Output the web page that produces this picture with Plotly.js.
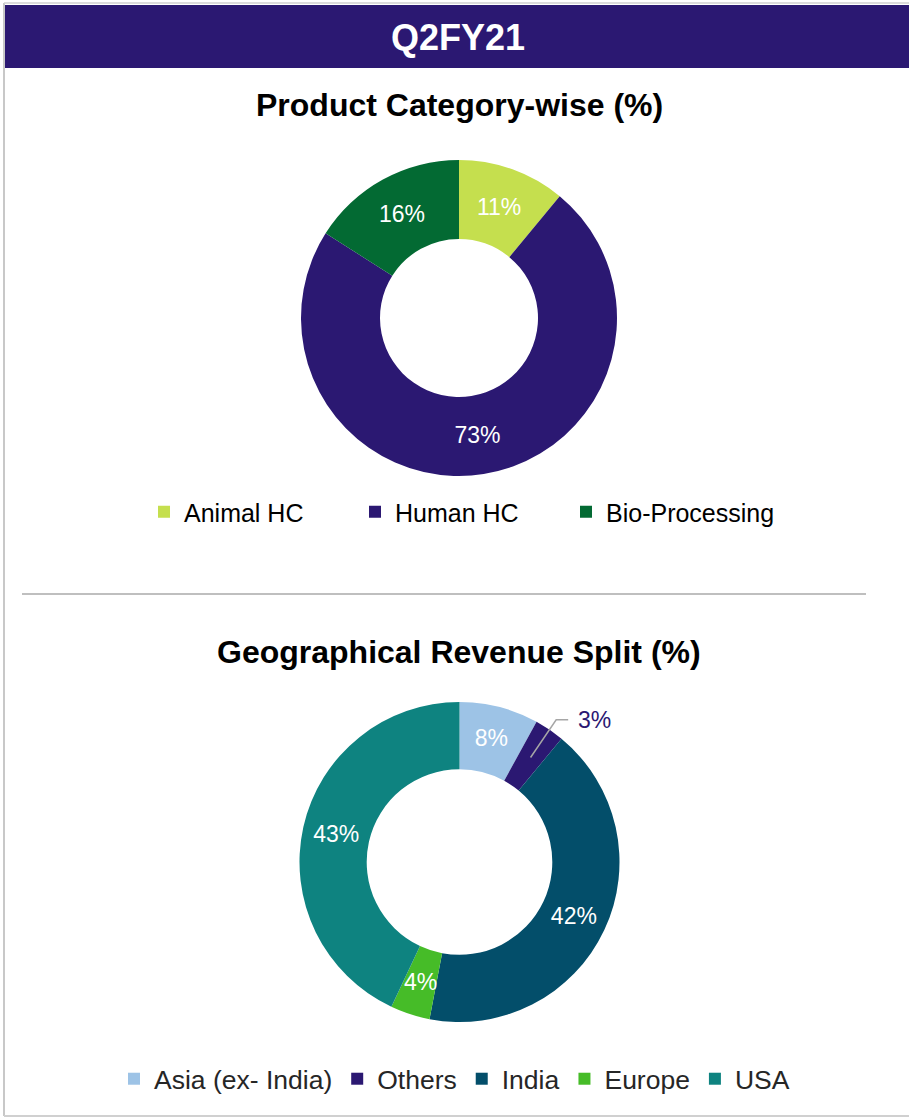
<!DOCTYPE html>
<html>
<head>
<meta charset="utf-8">
<script src="https://cdn.plot.ly/plotly-3.0.1.min.js"></script>
<style>
  html, body { margin: 0; padding: 0; background: #ffffff; }
  #chart { width: 909px; height: 1118px; }
</style>
</head>
<body>
<div id="chart"></div>
<script>
// ---- Data ----
const headerTitle = "Q2FY21";

const productTitle = "Product Category-wise (%)";
const productLabels = ["Animal HC", "Human HC", "Bio-Processing"];
const productValues = [11, 73, 16];
const productColors = ["#c5df4e", "#2b1872", "#036a33"];

const geoTitle = "Geographical Revenue Split (%)";
const geoLabels = ["Asia (ex- India)", "Others", "India", "Europe", "USA"];
const geoValues = [8, 3, 42, 4, 43];
const geoColors = ["#9dc3e6", "#2b1872", "#034e6a", "#46bc28", "#0e8380"];
// how each geo label is drawn: by the pie itself, as a free label on the ring, or with a leader line
const geoLabelModes = ["inside", "leader", "inside", "ring", "inside"];

// ---- Layout helpers ----
const W = 909, H = 1118;
const px = x => x / W;
const py = y => 1 - y / H;
const FONT = "Liberation Sans, Arial, Helvetica, sans-serif";

const pie1 = {cx: 459, cy: 318, r: 158, hole: 0.5};
const pie2 = {cx: 459.5, cy: 862, r: 160, hole: 0.58};
const dom = p => ({x: [px(p.cx - p.r), px(p.cx + p.r)], y: [py(p.cy + p.r), py(p.cy - p.r)]});

// point on a pie (clockwise from 12 o'clock) at the middle angle of slice i, radius rho
function slicePoint(p, values, i, rho) {
  const total = values.reduce((a, b) => a + b, 0);
  let before = 0;
  for (let k = 0; k < i; k++) before += values[k];
  const theta = 2 * Math.PI * (before + values[i] / 2) / total;
  return {x: p.cx + rho * Math.sin(theta), y: p.cy - rho * Math.cos(theta)};
}

const traces = [
  {
    type: "pie",
    labels: productLabels,
    values: productValues,
    marker: {colors: productColors, line: {width: 0}},
    hole: pie1.hole,
    sort: false,
    direction: "clockwise",
    rotation: 0,
    domain: dom(pie1),
    texttemplate: "%{value}%",
    textposition: "inside",
    insidetextorientation: "horizontal",
    textfont: {family: FONT, size: 23, color: "#ffffff"},
    legend: "legend",
    hoverinfo: "label+percent"
  },
  {
    type: "pie",
    labels: geoLabels,
    values: geoValues,
    marker: {colors: geoColors, line: {width: 0}},
    hole: pie2.hole,
    sort: false,
    direction: "clockwise",
    rotation: 0,
    domain: dom(pie2),
    texttemplate: "%{value}%",
    textposition: geoLabelModes.map(m => m === "inside" ? "inside" : "none"),
    insidetextorientation: "horizontal",
    insidetextfont: {family: FONT, size: 23, color: "#ffffff"},
    legend: "legend2",
    hoverinfo: "label+percent"
  }
];

const shapes = [
  {type: "rect", xref: "paper", yref: "paper", x0: px(5), x1: 1, y0: py(68), y1: py(5),
   fillcolor: "#2b1872", line: {width: 0}, layer: "below"},
  {type: "line", xref: "paper", yref: "paper", x0: px(4), x1: px(4), y0: py(1116), y1: py(3),
   line: {color: "#c8c8c8", width: 2}},
  {type: "line", xref: "paper", yref: "paper", x0: px(4), x1: 1, y0: py(1116), y1: py(1116),
   line: {color: "#d0d0d0", width: 2}},
  {type: "line", xref: "paper", yref: "paper", x0: px(4), x1: 1, y0: py(3), y1: py(3),
   line: {color: "#d0d0d0", width: 1.5}},
  {type: "line", xref: "paper", yref: "paper", x0: px(22), x1: px(866), y0: py(594), y1: py(594),
   line: {color: "#bfbfbf", width: 2}}
];

const annotations = [
  {text: "<b>" + headerTitle + "</b>", xref: "paper", yref: "paper", x: px(458), y: py(37),
   showarrow: false, font: {family: FONT, size: 36, color: "#ffffff"}, xanchor: "center", yanchor: "middle"},
  {text: "<b>" + productTitle + "</b>", xref: "paper", yref: "paper", x: px(459), y: py(105),
   showarrow: false, font: {family: FONT, size: 32, color: "#000000"}, xanchor: "center", yanchor: "middle"},
  {text: "<b>" + geoTitle + "</b>", xref: "paper", yref: "paper", x: px(459), y: py(652),
   showarrow: false, font: {family: FONT, size: 32, color: "#000000"}, xanchor: "center", yanchor: "middle"}
];

// free-standing labels for slices too small for the pie's own inside text
const ringMid = pie2.r * (1 + pie2.hole) / 2;
geoLabelModes.forEach((mode, i) => {
  const txt = geoValues[i] + "%";
  if (mode === "ring") {
    const p = slicePoint(pie2, geoValues, i, ringMid);
    annotations.push({text: txt, xref: "paper", yref: "paper", x: px(p.x), y: py(p.y),
      showarrow: false, font: {family: FONT, size: 23, color: "#ffffff"},
      xanchor: "center", yanchor: "middle"});
  } else if (mode === "leader") {
    const a = slicePoint(pie2, geoValues, i, ringMid);
    const b = slicePoint(pie2, geoValues, i, pie2.r + 12);
    const c = {x: b.x + 12, y: b.y};
    shapes.push({type: "path", xref: "paper", yref: "paper",
      path: `M${px(a.x)},${py(a.y)} L${px(b.x)},${py(b.y)} L${px(c.x)},${py(c.y)}`,
      line: {color: "#a6a6a6", width: 1.5}});
    annotations.push({text: txt, xref: "paper", yref: "paper", x: px(c.x + 8), y: py(c.y),
      showarrow: false, font: {family: FONT, size: 23, color: "#2b1872"},
      xanchor: "left", yanchor: "middle"});
  }
});

const layout = {
  width: W,
  height: H,
  margin: {l: 0, r: 0, t: 0, b: 0},
  paper_bgcolor: "#ffffff",
  font: {family: FONT, color: "#000000"},
  showlegend: true,
  legend: {
    orientation: "h",
    x: px(144), xanchor: "left",
    y: py(512), yanchor: "middle",
    entrywidth: 166,
    font: {family: FONT, size: 25, color: "#000000"},
    bgcolor: "rgba(0,0,0,0)",
    traceorder: "normal"
  },
  legend2: {
    orientation: "h",
    x: px(114), xanchor: "left",
    y: py(1079), yanchor: "middle",
    font: {family: FONT, size: 26.5, color: "#262626"},
    bgcolor: "rgba(0,0,0,0)",
    traceorder: "normal"
  },
  shapes: shapes,
  annotations: annotations
};

Plotly.newPlot("chart", traces, layout, {displayModeBar: false, staticPlot: true});
</script>
</body>
</html>
